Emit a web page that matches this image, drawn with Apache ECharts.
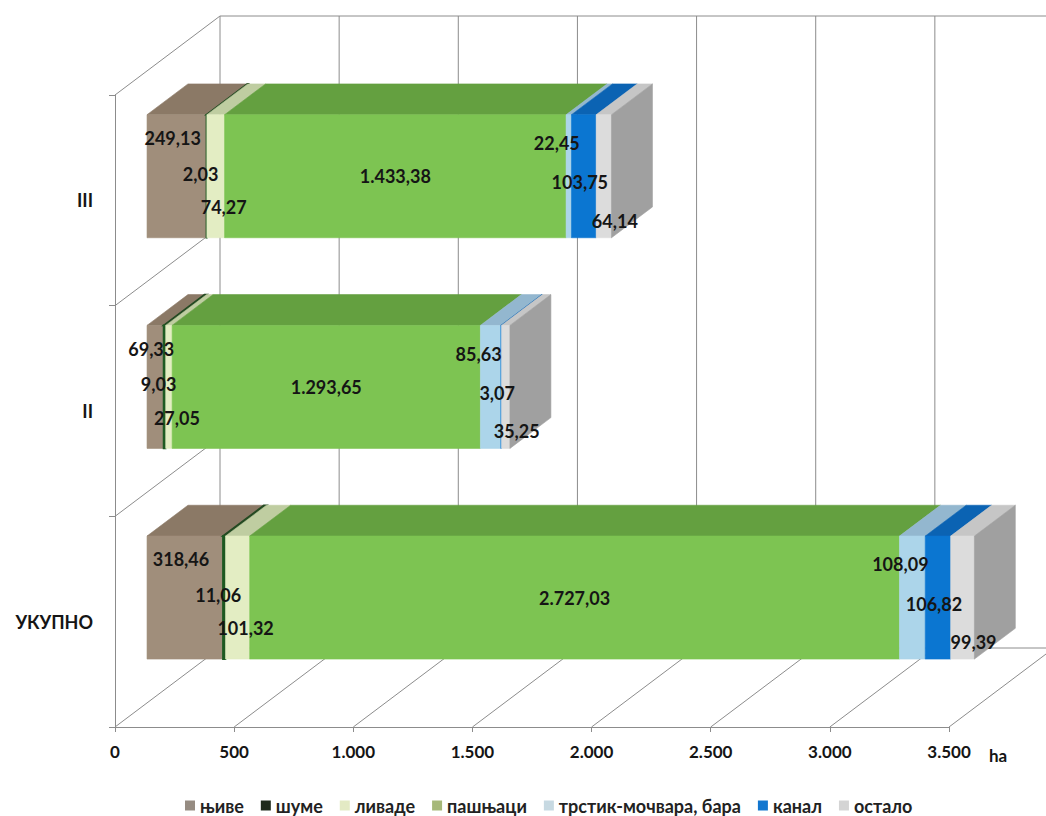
<!DOCTYPE html>
<html>
<head>
<meta charset="utf-8">
<script src="https://cdn.jsdelivr.net/npm/echarts@6/dist/echarts.min.js"></script>
<style>
  html, body { margin: 0; padding: 0; background: #ffffff; }
  #chart { width: 1046px; height: 816px; }
</style>
</head>
<body>
<div id="chart"></div>
<script>
// Land use per zone, hectares
const categories = ['УКУПНО', 'II', 'III'];
const seriesNames = ['њиве', 'шуме', 'ливаде', 'пашњаци', 'трстик-мочвара, бара', 'канал', 'остало'];
const njive    = [318.46, 69.33, 249.13];
const sume     = [11.06, 9.03, 2.03];
const livade   = [101.32, 27.05, 74.27];
const pasnjaci = [2727.03, 1293.65, 1433.38];
const trstik   = [108.09, 85.63, 22.45];
const kanal    = [106.82, 3.07, 103.75];
const ostalo   = [99.39, 35.25, 64.14];
const axisMax = 3500;
const axisStep = 500;
const axisUnit = 'ha';

const seriesValues = [njive, sume, livade, pasnjaci, trstik, kanal, ostalo];

// Box faces: legend swatch, front face, top face
const faces = [
  { legend: '#968c82', front: '#a08e7b', top: '#8b7966' },
  { legend: '#1f2a1c', front: '#1e5a22', top: '#244a22' },
  { legend: '#e3eac4', front: '#e3edc3', top: '#bfcda1' },
  { legend: '#a6b879', front: '#7dc452', top: '#64a040' },
  { legend: '#c7d9e2', front: '#acd5ea', top: '#93b7cf' },
  { legend: '#1276cf', front: '#0b76d1', top: '#0b63b3' },
  { legend: '#d4d4d4', front: '#dcdcdc', top: '#c6c6c6' }
];
const sideColor = '#a0a0a0';

// Label placement per series: horizontal nudge, vertical share of the box height
const labelPlace = [
  [-4, 0.19], [-6, 0.48], [8, 0.75], [0, 0.5], [-12, 0.23], [-4, 0.55], [11, 0.86]
];

// Oblique projection: full depth vector, box starts at FRONT share, box thickness THICK
const DEPTH = [105, -79];
const FRONT = 0.305;
const THICK = 0.39;
const BAR_H = 0.584;
const gridColor = '#8c8c8c';
const FONT = 'Lato, "Open Sans", sans-serif';

function fmtNum(v) {
  const parts = v.toFixed(2).split('.');
  const intPart = parts[0].replace(/\B(?=(\d{3})+(?!\d))/g, '.');
  return intPart + ',' + parts[1];
}
function fmtTick(v) {
  return String(v).replace(/\B(?=(\d{3})+(?!\d))/g, '.');
}

// stacked starts per category
const starts = categories.map(() => 0);
const stackData = seriesValues.map(vals => vals.map((v, ci) => {
  const s = starts[ci];
  starts[ci] += v;
  return [ci, s, s + v, v];
}));

function boxRenderer(si) {
  const last = si === seriesValues.length - 1;
  return function (params, api) {
    const ci = api.value(0), s = api.value(1), e = api.value(2), v = api.value(3);
    const a = api.coord([s, ci]);
    const b = api.coord([e, ci]);
    const band = api.size([0, 1])[1];
    const h = band * BAR_H;
    const fx = DEPTH[0] * FRONT, fy = DEPTH[1] * FRONT;
    const bx = DEPTH[0] * THICK, by = DEPTH[1] * THICK;
    const x0 = a[0] + fx, x1 = b[0] + fx;
    const yT = a[1] + fy - h / 2, yB = yT + h;
    const f = faces[si];
    const thin = si === 1 ? 1.6 : 0.6;
    const children = [
      { type: 'polygon', shape: { points: [[x0, yT], [x1, yT], [x1 + bx, yT + by], [x0 + bx, yT + by]] },
        style: { fill: f.top, stroke: f.top, lineWidth: thin } },
      { type: 'rect', shape: { x: x0, y: yT, width: x1 - x0, height: h },
        style: { fill: f.front, stroke: f.front, lineWidth: thin } }
    ];
    if (last) {
      children.push({ type: 'polygon',
        shape: { points: [[x1, yT], [x1 + bx, yT + by], [x1 + bx, yB + by], [x1, yB]] },
        style: { fill: sideColor, stroke: sideColor, lineWidth: 0.6 } });
    }
    const lp = labelPlace[si];
    children.push({ type: 'text', z2: 100,
      style: { text: fmtNum(v), x: (x0 + x1) / 2 + lp[0], y: yT + h * lp[1],
        align: 'center', verticalAlign: 'middle', fill: '#151515',
        fontSize: 18, fontWeight: 'bold', fontFamily: FONT } });
    return { type: 'group', children: children };
  };
}

const tickValues = [];
for (let t = 0; t <= axisMax; t += axisStep) tickValues.push(t);

// Floor, back wall and side wall lines
function frameRenderer(params, api) {
  const cs = params.coordSys;
  const yTop = cs.y, yBot = cs.y + cs.height;
  const v = api.value(0);
  const x = api.coord([v, 0])[0];
  const ls = { stroke: gridColor, lineWidth: 1, fill: null };
  const children = [
    { type: 'line', shape: { x1: x, y1: yBot, x2: x + DEPTH[0], y2: yBot + DEPTH[1] }, style: ls },
    { type: 'line', shape: { x1: x + DEPTH[0], y1: yBot + DEPTH[1], x2: x + DEPTH[0], y2: yTop + DEPTH[1] }, style: ls }
  ];
  if (params.dataIndex === 0) {
    const xr = api.coord([axisMax, 0])[0];
    children.push({ type: 'line', shape: { x1: x + DEPTH[0], y1: yTop + DEPTH[1], x2: xr + DEPTH[0], y2: yTop + DEPTH[1] }, style: ls });
    children.push({ type: 'line', shape: { x1: x + DEPTH[0], y1: yBot + DEPTH[1], x2: xr + DEPTH[0], y2: yBot + DEPTH[1] }, style: ls });
    const bandH = cs.height / categories.length;
    for (let k = 0; k < categories.length; k++) {
      const yb = yTop + k * bandH;
      children.push({ type: 'line', shape: { x1: x, y1: yb, x2: x + DEPTH[0], y2: yb + DEPTH[1] }, style: ls });
    }
  }
  return { type: 'group', children: children };
}

const chart = echarts.init(document.getElementById('chart'), null, { renderer: 'svg' });

const series = [{
  type: 'custom',
  name: 'frame',
  z: 1,
  silent: true,
  renderItem: frameRenderer,
  data: tickValues.map(t => [t]),
  encode: { x: 0 }
}];
seriesNames.forEach((name, si) => {
  series.push({
    type: 'custom',
    name: name,
    z: 2,
    itemStyle: { color: faces[si].legend },
    renderItem: boxRenderer(si),
    data: stackData[si],
    encode: { x: [1, 2], y: 0 }
  });
});

chart.setOption({
  animation: false,
  backgroundColor: '#ffffff',
  grid: { left: 115, right: 97, top: 95, bottom: 89, containLabel: false },
  xAxis: {
    type: 'value', min: 0, max: axisMax, interval: axisStep,
    name: axisUnit, nameLocation: 'end', nameGap: 40,
    nameTextStyle: { fontSize: 17, fontWeight: 'bold', color: '#151515', fontFamily: FONT,
      verticalAlign: 'top', padding: [20, 0, 0, 0] },
    axisLine: { show: true, lineStyle: { color: gridColor, width: 1 } },
    axisTick: { show: true, length: 5, lineStyle: { color: gridColor } },
    splitLine: { show: false },
    axisLabel: { fontSize: 17, fontWeight: 'bold', color: '#151515', fontFamily: FONT, margin: 16,
      formatter: fmtTick }
  },
  yAxis: {
    type: 'category', data: categories,
    axisLine: { show: true, lineStyle: { color: gridColor, width: 1 } },
    axisTick: { show: true, length: 6, lineStyle: { color: gridColor } },
    splitLine: { show: false },
    axisLabel: { fontSize: 18, fontWeight: 'bold', color: '#151515', fontFamily: FONT, margin: 22 }
  },
  legend: {
    data: seriesNames,
    left: 185, top: 796,
    padding: 0,
    icon: 'rect', itemWidth: 10, itemHeight: 10, itemGap: 17,
    textStyle: { fontSize: 18, lineHeight: 19, fontWeight: 'bold', color: '#222', fontFamily: FONT }
  },
  series: series
});
</script>
</body>
</html>
